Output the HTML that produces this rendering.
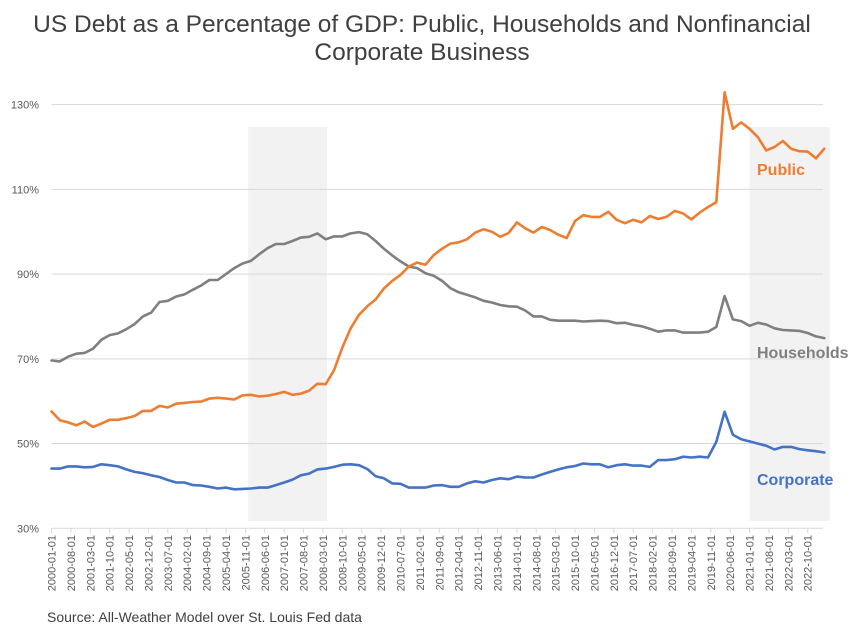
<!DOCTYPE html>
<html><head><meta charset="utf-8"><style>
body{margin:0;background:#fff;}
svg{display:block;font-family:"Liberation Sans",sans-serif;}
</style></head><body>
<svg id="chart" width="863" height="637" viewBox="0 0 863 637" xmlns="http://www.w3.org/2000/svg">
<text x="422" y="32" text-anchor="middle" font-size="24.5" fill="#404040">US Debt as a Percentage of GDP: Public, Households and Nonfinancial</text>
<text x="422" y="60" text-anchor="middle" font-size="24.5" fill="#404040">Corporate Business</text>
<g id="shades"></g><g id="grid"></g><g id="xaxis"></g><g id="series"></g>
<text x="757" y="175" font-size="16" font-weight="bold" fill="#ED7D31">Public</text>
<text x="757" y="358" font-size="16" font-weight="bold" fill="#7F7F7F">Households</text>
<text x="757" y="485" font-size="16" font-weight="bold" fill="#4472C4">Corporate</text>
<text x="47" y="622" font-size="14" fill="#404040">Source: All-Weather Model over St. Louis Fed data</text>
</svg>
<script>
const publicDebt=[57.6,55.5,55,54.3,55.2,53.9,54.7,55.6,55.6,56,56.5,57.7,57.7,58.9,58.5,59.4,59.6,59.8,59.9,60.6,60.8,60.6,60.4,61.4,61.5,61.1,61.3,61.7,62.2,61.5,61.8,62.5,64.1,64,67.3,72.7,77.2,80.4,82.4,84,86.6,88.4,89.8,91.8,92.7,92.2,94.5,96,97.2,97.5,98.2,99.8,100.6,100,98.8,99.7,102.2,100.8,99.8,101.1,100.4,99.3,98.5,102.5,103.9,103.5,103.5,104.7,102.8,102,102.8,102.2,103.7,103,103.5,104.9,104.3,102.9,104.5,105.8,107,132.9,124.3,125.8,124.3,122.3,119.2,120,121.4,119.6,119,118.9,117.3,119.6];
const households=[69.6,69.4,70.5,71.2,71.4,72.4,74.5,75.6,76,77,78.2,80,80.9,83.4,83.7,84.7,85.2,86.3,87.3,88.6,88.6,90,91.4,92.5,93.1,94.7,96.1,97.1,97.1,97.8,98.6,98.8,99.6,98.2,98.9,98.9,99.6,99.9,99.4,97.8,96,94.4,93,91.8,91.4,90.2,89.6,88.4,86.7,85.7,85.1,84.5,83.7,83.3,82.7,82.4,82.3,81.4,80,80,79.2,79,79,79,78.8,78.9,79,78.9,78.4,78.5,78,77.7,77.1,76.4,76.7,76.7,76.2,76.2,76.2,76.4,77.5,84.8,79.3,78.9,77.8,78.5,78.1,77.2,76.8,76.7,76.6,76.1,75.3,74.9];
const corporate=[44.1,44.1,44.6,44.6,44.4,44.5,45.1,44.9,44.6,43.9,43.3,43,42.5,42.1,41.4,40.8,40.8,40.2,40.1,39.8,39.4,39.6,39.2,39.3,39.4,39.6,39.6,40.2,40.8,41.5,42.5,42.9,43.9,44.1,44.5,45,45.1,44.9,44,42.3,41.8,40.6,40.5,39.6,39.6,39.6,40.1,40.2,39.8,39.8,40.6,41.1,40.8,41.4,41.8,41.6,42.2,42,42,42.7,43.3,43.9,44.4,44.7,45.3,45.1,45.1,44.4,44.9,45.1,44.8,44.8,44.5,46.1,46.1,46.3,46.9,46.7,46.9,46.7,50.4,57.5,52.1,51,50.5,50,49.5,48.6,49.2,49.2,48.7,48.4,48.2,47.9];
const yTicks=[30,50,70,90,110,130];
const recessions=[[71,99.5],[252,281]];
const NS="http://www.w3.org/2000/svg";
const X0=51.5,PXM=2.77,Y30=528.3,PXP=4.237,XR=823;
const xm=m=>X0+m*PXM;
const y=v=>Y30-(v-30)*PXP;
function mk(t,a,p){const e=document.createElementNS(NS,t);for(const k in a)e.setAttribute(k,a[k]);p.appendChild(e);return e;}
const shades=document.getElementById('shades');
recessions.forEach((r,i)=>{const e=mk('rect',{x:xm(r[0]),y:127,width:xm(r[1])-xm(r[0]),height:394,fill:'#F2F2F2'},shades);

});
const grid=document.getElementById('grid');
yTicks.forEach(t=>{const l=mk('line',{x1:X0,x2:XR,y1:y(t),y2:y(t),stroke:'#D9D9D9','stroke-width':1},grid);


const tx=mk('text',{x:39,y:y(t)+4,'text-anchor':'end','font-size':11,fill:'#595959'},grid);tx.textContent=t+'%';

});
const xa=document.getElementById('xaxis');
for(let m=0;m<=273;m+=7){const yr=2000+Math.floor(m/12),mo=m%12+1;
const tk=mk('line',{x1:xm(m),x2:xm(m),y1:528,y2:533,stroke:'#D9D9D9'},xa);


const tx=mk('text',{x:0,y:0,'text-anchor':'end','font-size':11,fill:'#595959',transform:`translate(${xm(m)+4},535) rotate(-90)`},xa);
tx.textContent=`${yr}-${String(mo).padStart(2,'0')}-01`;

}
const sg=document.getElementById('series');
[[households,'#7F7F7F','households-line'],[publicDebt,'#ED7D31','public-line'],[corporate,'#4472C4','corporate-line']].forEach(s=>{
const d=s[0].map((v,i)=>(i?'L':'M')+xm(i*3).toFixed(1)+','+y(v).toFixed(1)).join('');
const p=mk('path',{d:d,fill:'none',stroke:s[1],'stroke-width':2.6,'stroke-linejoin':'round','stroke-linecap':'round'},sg);

});
</script>
</body></html>
